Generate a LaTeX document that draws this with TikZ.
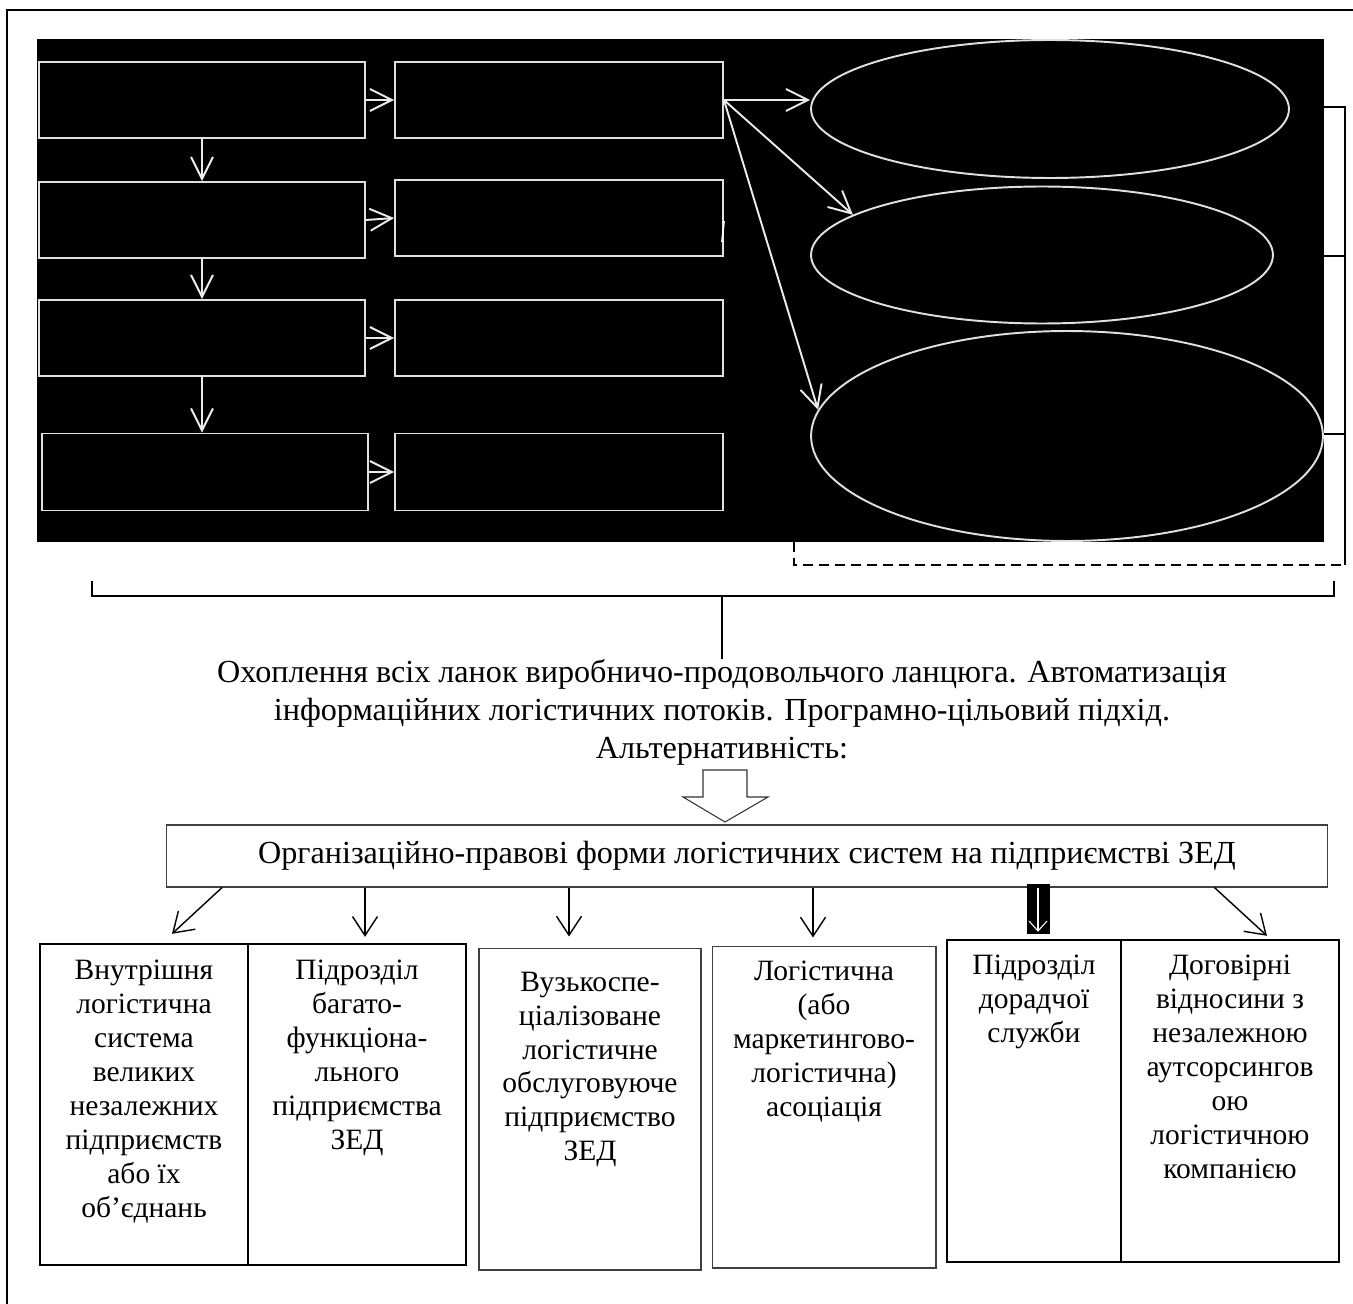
\documentclass[tikz,border=0pt]{standalone}
\usepackage{fontspec}
\setmainfont{Liberation Serif}
\usetikzlibrary{arrows.meta,calc,shapes.geometric}

\newcommand{\boxfont}{\fontsize{16.8}{19.3}\selectfont}
\newcommand{\leadfont}{\fontsize{18.3}{21.6}\selectfont}
\tikzset{
	wbox/.style={draw=white!88!black, line width=1.1pt, inner sep=0pt, minimum height=1.52cm},
	woval/.style={ellipse, draw=white!88!black, line width=1.1pt, inner sep=0pt},
	warr/.style={draw=white!92!black, line width=1.1pt, -{Straight Barb[length=0.44cm,width=0.44cm]}},
	formbox/.style={draw, line width=1.4pt, inner sep=0pt, minimum height=6.42cm},
	thinbox/.style={draw=black!75, line width=0.6pt, inner sep=0pt, minimum height=6.44cm},
	formtxt/.style={align=center, inner sep=0pt, anchor=north, font=\boxfont},
	barr/.style={line width=0.8pt, -{Straight Barb[length=0.38cm,width=0.5cm]}},
	fatarr/.style={line width=0.46cm},
	brk/.style={line width=0.9pt},
}

\begin{document}
\begin{tikzpicture}[x=0.02cm, y=-0.02cm]
				\useasboundingbox (0,0) rectangle (1353,1304);
				% frame and dark panel
				\draw[line width=0.8pt] (1353,10) -- (7,10) -- (7,1304);
				\fill[black] (37,38.6) rectangle (1324,542);
				% chain of boxes:
				\node[wbox, minimum width=6.52cm] (L1) at (202,100) {};
				\node[wbox, minimum width=6.52cm] (L2) at (202,220) {};
				\node[wbox, minimum width=6.52cm] (L3) at (202,338) {};
				\node[wbox, minimum width=6.52cm, minimum height=1.54cm] (L4) at (205,472) {};
				\node[wbox, minimum width=6.56cm] (R1) at (559,100) {};
				\node[wbox, minimum width=6.56cm] (R2) at (559,218) {};
				\node[wbox, minimum width=6.56cm] (R3) at (559,338) {};
				\node[wbox, minimum width=6.56cm, minimum height=1.54cm] (R4) at (559,472) {};
				\draw[warr] (L1.south) -- (L2.north);
				\draw[warr] (L2.south) -- (L3.north);
				\draw[warr] (L3.south) -- (L3.south |- L4.north);
				\draw[warr] (L1.east) -- (R1.west);
				\draw[warr] (L2.east) -- (R2.west);
				\draw[warr] (L3.east) -- (R3.west);
				\draw[warr] (L4.east) -- (R4.west);
				\draw[white, line width=1pt] (724,221) -- (722,242);
				% ovals:
				\node[woval, minimum width=9.56cm, minimum height=2.76cm] (E1) at (1050,109) {};
				\node[woval, minimum width=9.24cm, minimum height=2.74cm] (E2) at (1042,255) {};
				\node[woval, minimum width=10.24cm, minimum height=4.2cm] (E3) at (1067,436) {};
				\draw[warr] (R1.east) -- (R1.east -| E1.west);
				\draw[warr] (R1.east) -- (E2.168);
				\draw[warr] (R1.east) -- (E3.174);
				% brackets:
				\coordinate (k1) at (1324,107);
				\coordinate (k2) at (1324,256);
				\coordinate (k3) at (1324,434);
				\coordinate (kb) at (1345,565);
				\coordinate (d0) at (794,542);
				\draw[brk] (k1) -| (kb);
				\draw[brk] (k2) -- (k2 -| kb);
				\draw[brk] (k3) -- (k3 -| kb);
				\draw[brk, dash pattern=on 5.7pt off 3.4pt] (d0) |- (kb);
				\coordinate (c1) at (92,581);
				\coordinate (c2) at (1334,581);
				\coordinate (c0) at (722,596);
				\draw[brk] (c1) -- ++(0,15) -| (c2);
				\node[font=\leadfont, align=center, inner sep=0pt, anchor=north] (lead) at (722,659) {Охоплення всіх ланок виробничо-продовольчого ланцюга. Автоматизація\\інформаційних логістичних потоків. Програмно-цільовий підхід.\\Альтернативність:};
				\draw[brk] (c0) -- (lead.north);
				\draw[draw=black!80, line width=0.6pt] (703,770) -- (747,770) -- (747,797) -- (768,797) -- (725,822) -- (683,797) -- (703,797) -- cycle;
				% forms:
				\node[thinbox, minimum width=23.22cm, minimum height=1.24cm, font=\leadfont] (org) at (747,856) {Організаційно-правові форми логістичних систем на підприємстві ЗЕД};
				\node[formbox, minimum width=4.16cm] (B1) at (144,1104.5) {};
				\node[formbox, minimum width=4.36cm] (B2) at (357,1104.5) {};
				\node[thinbox, minimum width=4.44cm] (B3) at (590,1109) {};
				\node[thinbox, minimum width=4.48cm] (B4) at (824,1107) {};
				\node[formbox, minimum width=3.48cm, minimum height=6.44cm] (B5) at (1034,1101) {};
				\node[formbox, minimum width=4.36cm, minimum height=6.44cm] (B6) at (1230,1101) {};
				\node[formtxt] (t1) at ([yshift=-0.34cm]B1.north) {Внутрішня\\логістична\\система\\великих\\незалежних\\підприємств\\або їх\\об’єднань};
				\node[formtxt] (t2) at ([yshift=-0.34cm]B2.north) {Підрозділ\\багато-\\функціона-\\льного\\підприємства\\ЗЕД};
				\node[formtxt] (t3) at ([yshift=-0.48cm]B3.north) {Вузькоспе-\\ціалізоване\\логістичне\\обслуговуюче\\підприємство\\ЗЕД};
				\node[formtxt] (t4) at ([yshift=-0.3cm]B4.north) {Логістична\\(або\\маркетингово-\\логістична)\\асоціація};
				\node[formtxt] (t5) at ([yshift=-0.32cm]B5.north) {Підрозділ\\дорадчої\\служби};
				\node[formtxt] (t6) at ([yshift=-0.32cm]B6.north) {Договірні\\відносини з\\незалежною\\аутсорсингов\\ою\\логістичною\\компанією};
				\draw[barr] ([xshift=1.12cm]org.south west) -- ([xshift=0.56cm,yshift=0.18cm]B1.north);
				\draw[barr] ([xshift=0.16cm]B2.north |- org.south) -- ([xshift=0.16cm,yshift=0.12cm]B2.north);
				\draw[barr] ([xshift=-0.42cm]B3.north |- org.south) -- ([xshift=-0.42cm,yshift=0.22cm]B3.north);
				\draw[barr] ([xshift=-0.22cm]B4.north |- org.south) -- ([xshift=-0.22cm,yshift=0.16cm]B4.north);
				\draw[fatarr] ([xshift=0.08cm,yshift=0.08cm]B5.north |- org.south) -- ([xshift=0.08cm,yshift=0.1cm]B5.north);
				\draw[white, line width=0.6pt, -{Straight Barb[length=0.2cm,width=0.36cm]}] ([xshift=0.08cm]B5.north |- org.south) -- ([xshift=0.08cm,yshift=0.14cm]B5.north);
				\draw[barr] ([xshift=-2.27cm]org.south east) -- ([xshift=0.74cm,yshift=0.06cm]B6.north);
			\end{tikzpicture}
\end{document}
